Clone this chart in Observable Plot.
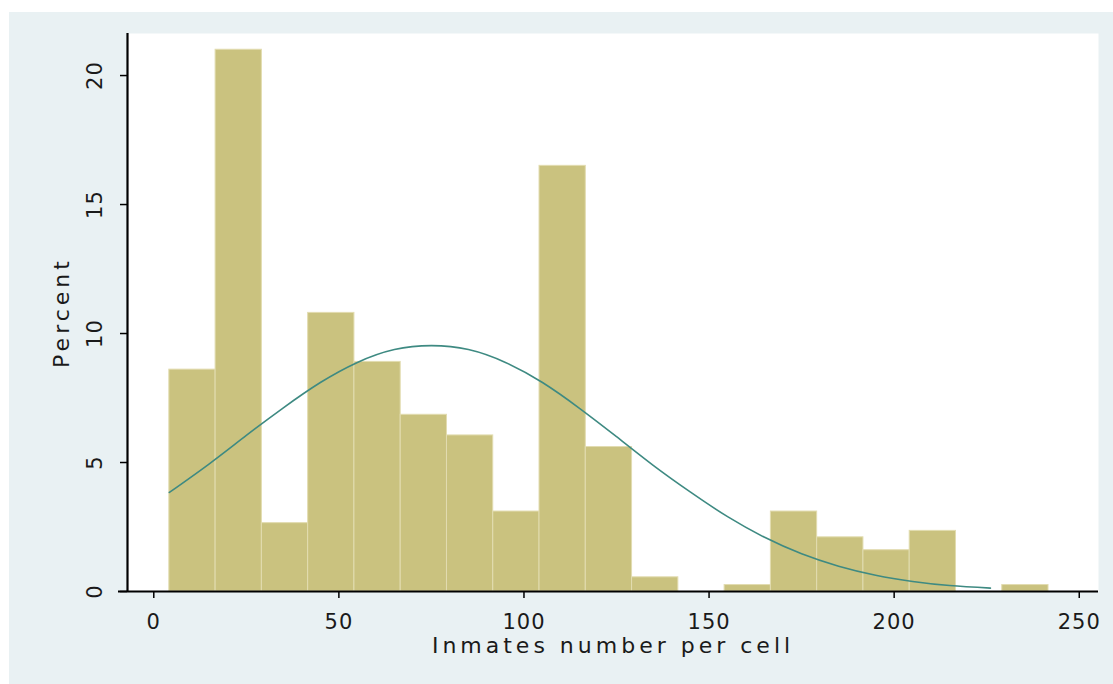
<!DOCTYPE html>
<html>
<head>
<meta charset="utf-8">
<script src="https://cdn.jsdelivr.net/npm/d3@7"></script>
<script src="https://cdn.jsdelivr.net/npm/@observablehq/plot@0.6"></script>
<style>
  html, body { margin: 0; padding: 0; background: #ffffff; }
  #chart { position: absolute; left: 9px; top: 12px; width: 1104px; height: 672px; background: #E9F1F3; }
  #chart svg text { font-family: "DejaVu Sans", sans-serif; fill: #1a1a1a; }
</style>
</head>
<body>
<div id="chart"></div>
<script>
// Histogram bin edges (inmates per cell)
const binEdges = [4.2, 16.7, 29.2, 41.7, 54.2, 66.7, 79.2, 91.7, 104.2, 116.7, 129.2, 141.7, 154.2, 166.7, 179.2, 191.7, 204.2, 216.7, 229.2, 241.7];
// Percent in each bin
const percents = [8.6, 21.0, 2.65, 10.8, 8.9, 6.85, 6.05, 3.1, 16.5, 5.6, 0.55, 0, 0.25, 3.1, 2.1, 1.6, 2.35, 0, 0.25];
// Normal density overlay
const curveX = [4.2, 15, 25, 35, 45, 55, 65, 75, 85, 95, 105, 115, 125, 135, 145, 155, 165, 175, 185, 195, 205, 215, 226];
const curveY = [3.84, 4.95, 6.05, 7.12, 8.1, 8.88, 9.38, 9.53, 9.38, 8.88, 8.1, 7.1, 6.0, 4.88, 3.85, 2.9, 2.1, 1.46, 0.98, 0.63, 0.39, 0.23, 0.13];
// Axis ticks and titles
const xTicks = [0, 50, 100, 150, 200, 250];
const yTicks = [0, 5, 10, 15, 20];
const xLabel = "Inmates number per cell";
const yLabel = "Percent";

const bins = percents.map((p, i) => ({x1: binEdges[i], x2: binEdges[i + 1], y: p})).filter(d => d.y > 0);
const curve = curveX.map((x, i) => ({x, y: curveY[i]}));

const xDomain = [-7.1, 255.2];
const yDomain = [0, 21.63];
const xPerPx = (xDomain[1] - xDomain[0]) / 971;
const yPerPx = (yDomain[1] - yDomain[0]) / 558;

const chart = Plot.plot({
  width: 1104,
  height: 672,
  marginLeft: 118,
  marginRight: 15,
  marginTop: 21,
  marginBottom: 93,
  style: {background: "transparent", overflow: "visible"},
  x: {domain: xDomain, axis: null},
  y: {domain: yDomain, axis: null},
  marks: [
    Plot.frame({fill: "#ffffff", stroke: null}),
    Plot.rectY(bins, {x1: "x1", x2: "x2", y1: 0, y2: "y", fill: "#CAC27F", stroke: "#E2DCB0", strokeWidth: 1}),
    Plot.line(curve, {x: "x", y: "y", stroke: "#3E8A82", strokeWidth: 1.6, curve: "natural"}),
    // axis lines
    Plot.ruleX([xDomain[0]], {y1: 0, y2: yDomain[1], stroke: "#000", strokeWidth: 2.2}),
    Plot.ruleY([0], {x1: xDomain[0] - 9 * xPerPx, x2: xDomain[1], stroke: "#000", strokeWidth: 2.2}),
    // ticks
    Plot.ruleX(xTicks, {x: d => d, y1: 0, y2: -7 * yPerPx, stroke: "#000", strokeWidth: 1.5}),
    Plot.ruleY(yTicks, {y: d => d, x1: xDomain[0], x2: xDomain[0] - 7 * xPerPx, stroke: "#000", strokeWidth: 1.5}),
    // tick labels
    Plot.text(xTicks, {x: d => d, text: d => String(d), frameAnchor: "bottom", dy: 31, textAnchor: "middle", lineAnchor: "middle", fontSize: 21}),
    Plot.text(yTicks, {y: d => d, text: d => String(d), frameAnchor: "left", dx: -32, rotate: -90, textAnchor: "middle", lineAnchor: "middle", fontSize: 21}),
    // axis titles
    Plot.text([xLabel], {text: d => d, frameAnchor: "bottom", dy: 54, textAnchor: "middle", lineAnchor: "middle", fontSize: 22}),
    Plot.text([yLabel], {text: d => d, frameAnchor: "left", dx: -66, rotate: -90, textAnchor: "middle", lineAnchor: "middle", fontSize: 22})
  ]
});

d3.select(chart).selectAll("text").each(function () {
  const t = this.textContent;
  if (t === xLabel || t === yLabel) d3.select(this).style("letter-spacing", "4px");
  else d3.select(this).style("letter-spacing", "1px");
});

document.getElementById("chart").appendChild(chart);
</script>
</body>
</html>
